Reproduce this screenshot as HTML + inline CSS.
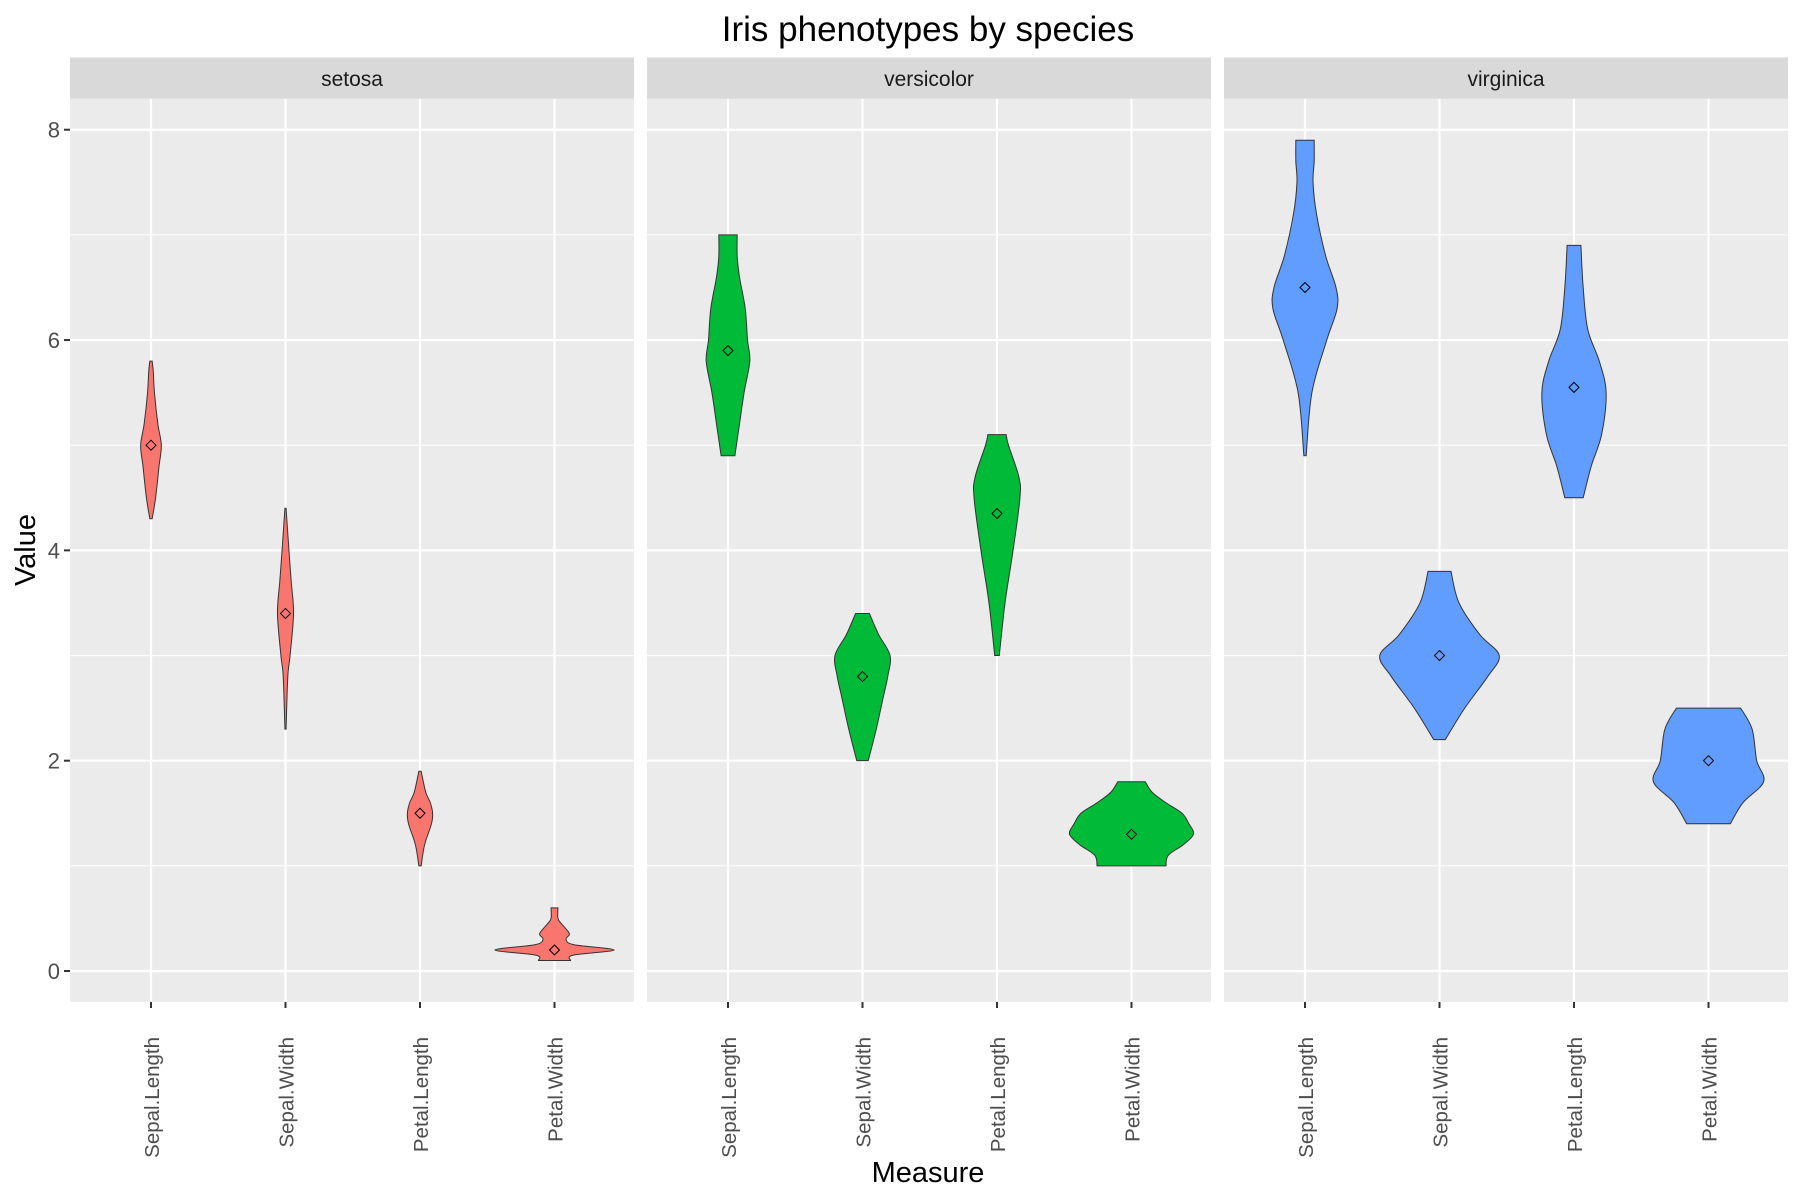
<!DOCTYPE html>
<html><head><meta charset="utf-8"><style>
body{margin:0;background:#fff}
svg{display:block}
text{font-family:"Liberation Sans",Arial,sans-serif}
</style></head><body>
<svg id="c" width="1800" height="1200" xmlns="http://www.w3.org/2000/svg">
<rect width="1800" height="1200" fill="#fff"/>
<text x="928" y="41" font-size="35" text-anchor="middle" fill="#000">Iris phenotypes by species</text>
<text transform="translate(35,550) rotate(-90)" font-size="29" text-anchor="middle" fill="#000">Value</text>
<text x="928" y="1182" font-size="29" text-anchor="middle" fill="#000">Measure</text>
<g id="plot"></g>
</svg>
<script>
const species=["setosa","versicolor","virginica"];
const measures=["Sepal.Length","Sepal.Width","Petal.Length","Petal.Width"];
const colors=["#F8766D","#00BA38","#619CFF"];
const yTicks=[0,2,4,6,8];
const yMinor=[1,3,5,7];
const medians=[[5.0,3.4,1.5,0.2],[5.9,2.8,4.35,1.3],[6.5,3.0,5.55,2.0]];
const setosaProfiles=[
 [[4.3,1],[4.5,4],[4.8,7],[5.0,9],[5.2,6],[5.5,3],[5.7,2],[5.8,1]],
 [[2.3,0.5],[2.8,2],[3.0,4],[3.4,7],[3.7,5],[4.0,3],[4.4,0.5]],
 [[1.0,1],[1.2,4],[1.4,10],[1.5,11],[1.6,9],[1.7,5],[1.9,1]],
 [[0.1,14],[0.15,16],[0.2,52],[0.25,17],[0.3,10],[0.35,13],[0.4,10],[0.45,6],[0.5,3],[0.6,3]]
];
const versicolorProfiles=[
 [[4.9,6],[5.2,10],[5.5,14],[5.8,19],[6.0,17],[6.3,15],[6.6,10],[6.8,8],[7.0,8]],
 [[2.0,5],[2.3,12],[2.6,18],[2.8,22],[3.0,24],[3.2,14],[3.4,6]],
 [[3.0,2],[3.5,7],[4.0,14],[4.5,20],[4.7,19],[5.0,10],[5.1,8]],
 [[1.0,30],[1.1,32],[1.2,45],[1.3,54],[1.4,50],[1.5,44],[1.6,30],[1.7,18],[1.8,12]]
];
const virginicaProfiles=[
 [[4.9,1],[5.5,6],[6.0,19],[6.3,28],[6.5,27],[6.8,18],[7.2,10],[7.5,7],[7.7,8],[7.9,8]],
 [[2.2,5],[2.5,22],[2.8,42],[3.0,52],[3.2,35],[3.5,17],[3.8,10]],
 [[4.5,8],[4.8,15],[5.1,24],[5.5,28],[5.8,22],[6.1,12],[6.5,8],[6.9,6]],
 [[1.4,19],[1.6,30],[1.8,48],[2.0,42],[2.3,38],[2.5,28]]
];
const profiles=[setosaProfiles,versicolorProfiles,virginicaProfiles];

const NS="http://www.w3.org/2000/svg";
const g=document.getElementById("plot");
const panelX=[70,647,1224], panelW=564, pTop=98.7, pBottom=1002, stripTop=57.4;
const y=v=>971-v*105.16;
const step=134.5;
const xc=(p,i)=>panelX[p]+81+i*step;
const wScale=1.148;
function mk(tag,attrs,parent){const e=document.createElementNS(NS,tag);for(const k in attrs)e.setAttribute(k,attrs[k]);(parent||g).appendChild(e);return e;}
function smooth(pts){
  let d="M"+pts[0][0]+","+pts[0][1];
  for(let i=0;i<pts.length-1;i++){
    const p0=pts[Math.max(i-1,0)],p1=pts[i],p2=pts[i+1],p3=pts[Math.min(i+2,pts.length-1)];
    const c1=[p1[0]+(p2[0]-p0[0])/6,p1[1]+(p2[1]-p0[1])/6];
    const c2=[p2[0]-(p3[0]-p1[0])/6,p2[1]-(p3[1]-p1[1])/6];
    d+=" C"+c1[0]+","+c1[1]+" "+c2[0]+","+c2[1]+" "+p2[0]+","+p2[1];
  }
  return d;
}
species.forEach((sp,p)=>{
  const x0=panelX[p];
  const bg=mk("rect",{x:x0,y:pTop,width:panelW,height:pBottom-pTop,fill:"#EBEBEB"});
  
  
  const strip=mk("rect",{x:x0,y:stripTop,width:panelW,height:pTop-stripTop,fill:"#D9D9D9"});
  
  
  const st=mk("text",{x:x0+panelW/2,y:86,"font-size":21,"text-anchor":"middle",fill:"#1A1A1A"});
  st.textContent=sp;
  
  
  yMinor.forEach(v=>{const l=mk("line",{x1:x0,x2:x0+panelW,y1:y(v),y2:y(v),stroke:"#fff","stroke-width":1.1});
    
    });
  yTicks.forEach(v=>{const l=mk("line",{x1:x0,x2:x0+panelW,y1:y(v),y2:y(v),stroke:"#fff","stroke-width":2.2});
    
    });
  measures.forEach((m,i)=>{
    const l=mk("line",{x1:xc(p,i),x2:xc(p,i),y1:pTop,y2:pBottom,stroke:"#fff","stroke-width":2.2});
    
    
    const t=mk("line",{x1:xc(p,i),x2:xc(p,i),y1:pBottom,y2:pBottom+6,stroke:"#333","stroke-width":2});
    
    
    const lb=mk("text",{transform:"translate("+(xc(p,i)+8)+","+(pBottom+35)+") rotate(-90)","font-size":20.5,"text-anchor":"end",fill:"#4D4D4D"});
    lb.textContent=m;
    
    
    const prof=profiles[p][i];
    const right=prof.map(([v,w])=>[xc(p,i)+w*wScale,y(v)]);
    const left=prof.slice().reverse().map(([v,w])=>[xc(p,i)-w*wScale,y(v)]);
    const d=smooth(right)+" L"+left[0][0]+","+left[0][1]+smooth(left).replace(/^M[^ ]+/,"")+" Z";
    const vi=mk("path",{d:d,fill:colors[p],stroke:"#333","stroke-width":1});
    
    
    const cx=xc(p,i),cy=y(medians[p][i]);
    const dm=mk("path",{d:`M${cx},${cy-5} L${cx+5},${cy} L${cx},${cy+5} L${cx-5},${cy} Z`,fill:"none",stroke:"#000","stroke-width":1});
    
    
  });
});
yTicks.forEach(v=>{
  const t=mk("line",{x1:64,x2:70,y1:y(v),y2:y(v),stroke:"#333","stroke-width":2});
  
  
  const lb=mk("text",{x:60,y:y(v)+8,"font-size":22,"text-anchor":"end",fill:"#4D4D4D"});
  lb.textContent=v;
  
  
});
</script>
</body></html>
